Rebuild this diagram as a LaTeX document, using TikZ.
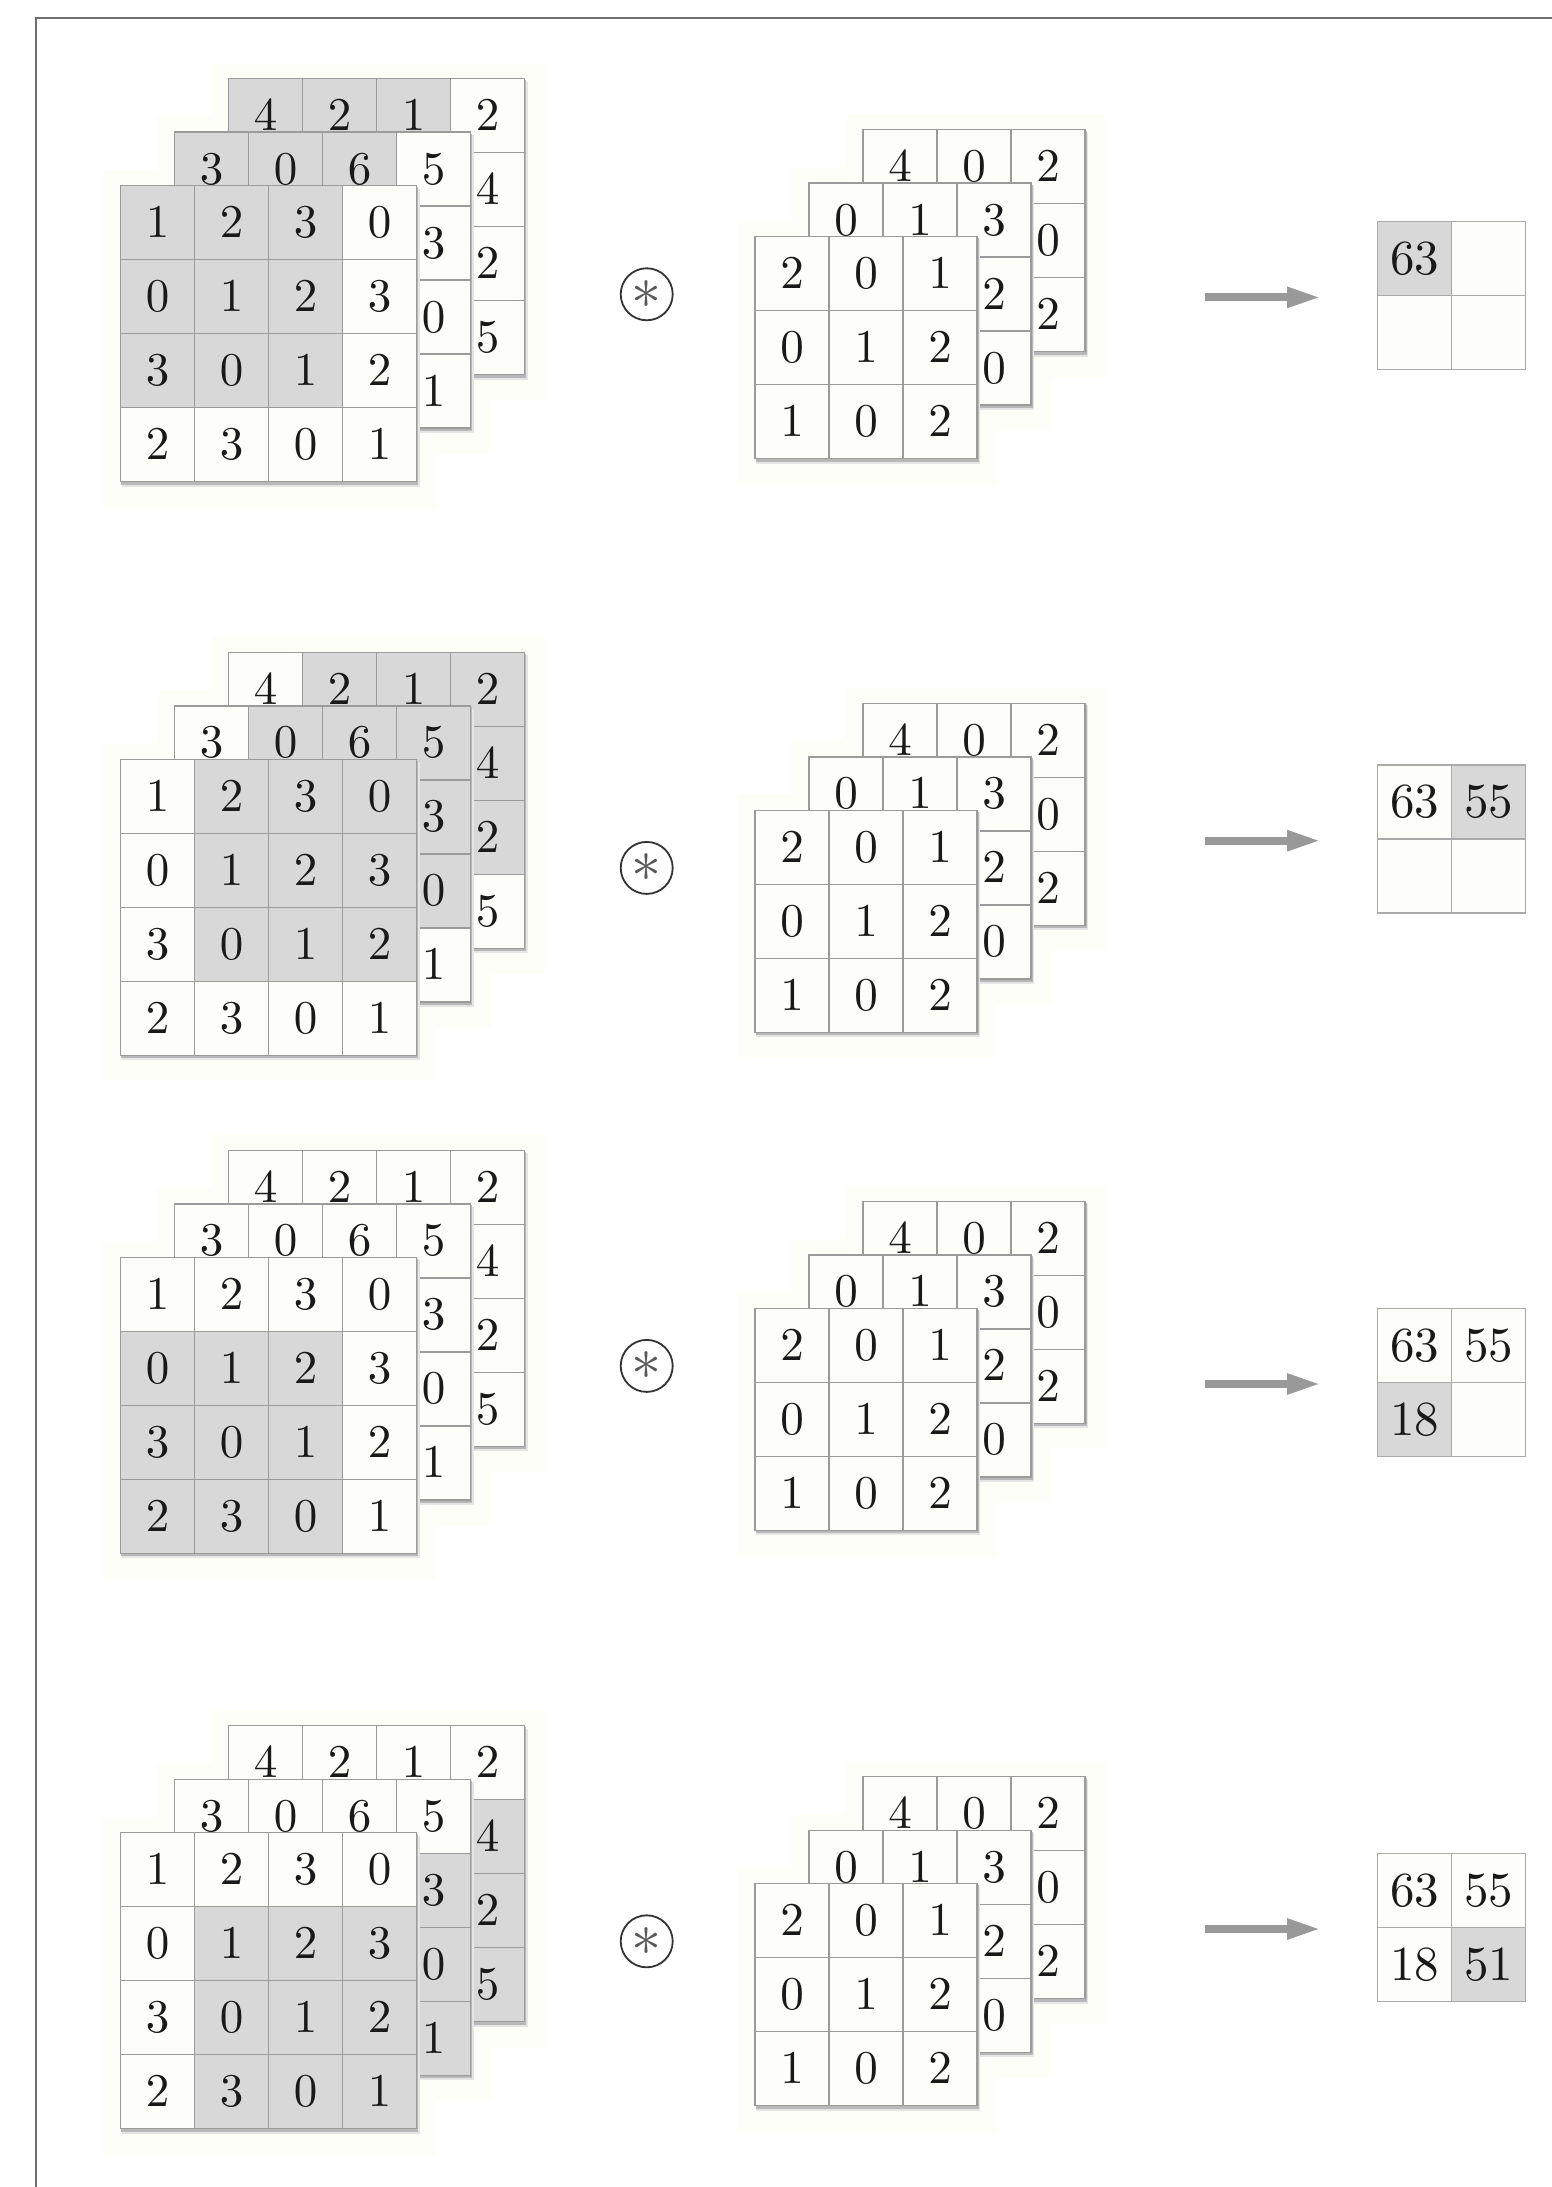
\documentclass[tikz,border=0pt]{standalone}
\usetikzlibrary{arrows.meta}
\font\cellfont=cmr10 at 23.5pt
\font\outfont=cmr10 at 24.5pt
\font\opfont=cmsy10 at 30pt
\definecolor{gridc}{RGB}{155,155,155}
\definecolor{shadec}{RGB}{216,216,216}
\definecolor{whitec}{RGB}{253,253,249}
\definecolor{creamc}{RGB}{254,254,248}
\definecolor{framec}{RGB}{110,110,110}
\definecolor{arrowc}{RGB}{153,153,153}
\tikzset{
  cell/.style={draw=gridc, line width=0.7pt, minimum size=37pt, inner sep=0pt, text=black!90, font=\cellfont},
  outcell/.style={cell, draw=gridc!85, font=\outfont},
  opnode/.style={circle, draw=black!80, line width=0.9pt, minimum size=26pt, inner sep=0pt, text=black!65, font=\opfont},
  bigarrow/.style={draw=arrowc, line width=4pt, -{Triangle[length=17pt,width=9.5pt,fill=arrowc]}},
  shadowa/.style={fill=black!28},
  shadowb/.style={fill=black!10},
}
\newcommand\layerhalo[3]{%
  \fill[creamc] ({#1-18},{#2-16}) rectangle ({#1+74*#3+20},{#2+74*#3+26});}
\newcommand\layershadow[3]{%
  \fill[shadowb] ({#1+1},{#2+3}) rectangle ({#1+74*#3+3},{#2+74*#3+5});
  \fill[shadowa] ({#1+0.5},{#2+1.5}) rectangle ({#1+74*#3+1.5},{#2+74*#3+3});}
\newcommand\gridlayer[8]{% #1 name #2 x #3 y #4 rows #5 r0 #6 c0 #7 extent #8 style
  \foreach \row [count=\r from 0] in {#4} {
    \foreach \v [count=\c from 0] in \row {
      \pgfmathtruncatemacro\sh{and(and(\r>=#5,\r<=#5+#7),and(\c>=#6,\c<=#6+#7))}
      \ifnum\sh=1 \def\cf{shadec}\else\def\cf{whitec}\fi
      \node[#8, fill=\cf] (#1-\r-\c) at ({#2+74*\c+37},{#3+74*\r+37}) {\ifnum\v<0 \else\v\fi};
    }
  }}
\newcommand\convrow[8]{% #1 k, #2 Y, #3 O, #4 r0, #5 c0, #6 out rows, #7 out r, #8 out c
  \layerhalo{228.5}{#2-107}{4}\layerhalo{174.5}{#2-53.5}{4}\layerhalo{120.7}{#2}{4}
  \layerhalo{863}{#2-56}{3}\layerhalo{809}{#2-2.5}{3}\layerhalo{755}{#2+51}{3}
  \layershadow{228.5}{#2-107}{4}
  \gridlayer{in#1b}{228.5}{#2-107}{{4,2,1,2},{-1,-1,-1,4},{-1,-1,-1,2},{-1,-1,-1,5}}{#4}{#5}{2}{cell}
  \layershadow{174.5}{#2-53.5}{4}
  \gridlayer{in#1m}{174.5}{#2-53.5}{{3,0,6,5},{-1,-1,-1,3},{-1,-1,-1,0},{-1,-1,-1,1}}{#4}{#5}{2}{cell}
  \layershadow{120.7}{#2}{4}
  \gridlayer{in#1f}{120.7}{#2}{{1,2,3,0},{0,1,2,3},{3,0,1,2},{2,3,0,1}}{#4}{#5}{2}{cell}
  \layershadow{863}{#2-56}{3}
  \gridlayer{fl#1b}{863}{#2-56}{{4,0,2},{-1,-1,0},{-1,-1,2}}{-9}{-9}{0}{cell}
  \layershadow{809}{#2-2.5}{3}
  \gridlayer{fl#1m}{809}{#2-2.5}{{0,1,3},{-1,-1,2},{-1,-1,0}}{-9}{-9}{0}{cell}
  \layershadow{755}{#2+51}{3}
  \gridlayer{fl#1f}{755}{#2+51}{{2,0,1},{0,1,2},{1,0,2}}{-9}{-9}{0}{cell}
  \node[opnode] (op#1) at (646.7,{#2+108.6}) {\char3};
  \coordinate (as#1) at (1205,{#3+75.7});
  \coordinate (ae#1) at (1321,{#3+75.7});
  \draw[bigarrow] (as#1) -- (ae#1);
  \gridlayer{out#1}{1377.7}{#3}{#6}{#7}{#8}{0}{outcell}
}
\begin{document}
\begin{tikzpicture}[x=0.5pt,y=-0.5pt]
  \useasboundingbox (0,0) rectangle (1551,2187);
  \fill[white] (0,0) rectangle (1551,2187);
  \draw[framec, line width=1pt] (36,2200) -- (36,18.5) -- (1560,18.5);
  \convrow{1}{185.7}{221.7}{0}{0}{{63,-1},{-1,-1}}{0}{0}
  \convrow{2}{759.3}{765}{0}{1}{{63,55},{-1,-1}}{0}{1}
  \convrow{3}{1257.3}{1308.3}{1}{0}{{63,55},{18,-1}}{1}{0}
  \convrow{4}{1832.7}{1853.3}{1}{1}{{63,55},{18,51}}{1}{1}
\end{tikzpicture}
\end{document}
